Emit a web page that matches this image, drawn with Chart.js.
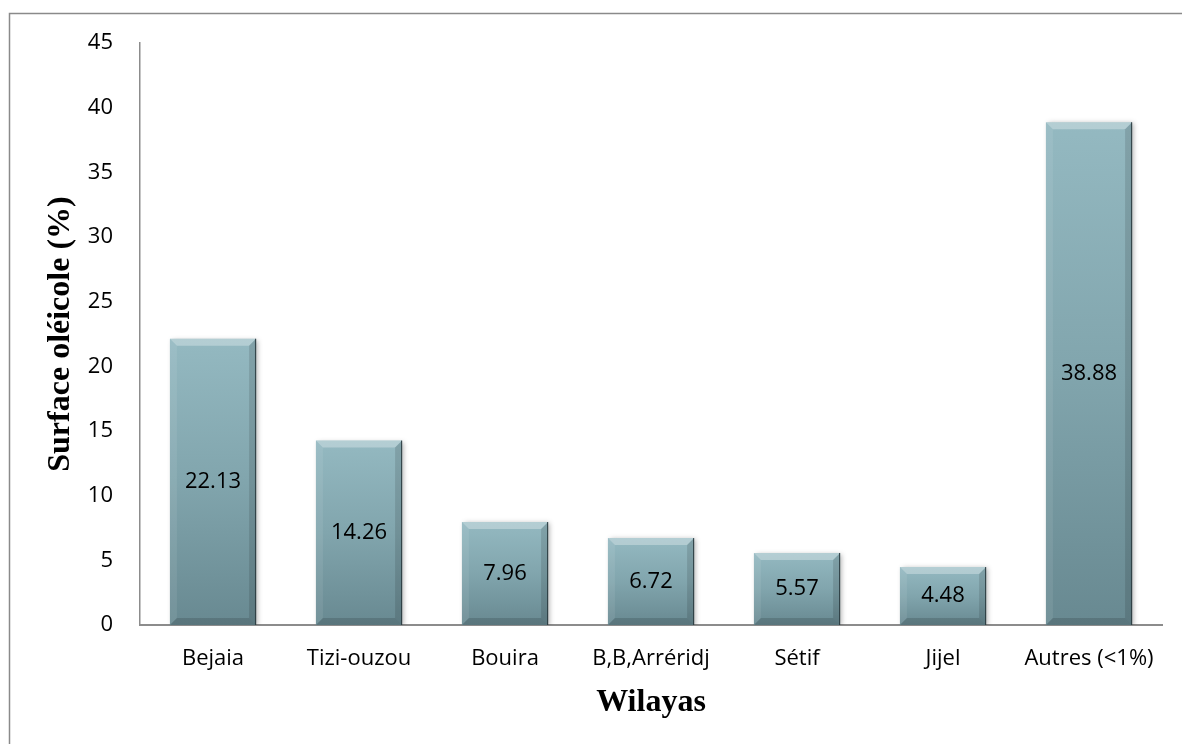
<!DOCTYPE html>
<html>
<head>
<meta charset="utf-8">
<script src="https://cdn.jsdelivr.net/npm/chart.js@4.4.1/dist/chart.umd.min.js"></script>
<style>
  body { margin: 0; background: #fff; }
</style>
</head>
<body>
<canvas id="plot" width="1182" height="744"></canvas>
<script>
// wilayas and share of olive surface (%)
var wilayas = ['Bejaia', 'Tizi-ouzou', 'Bouira', 'B,B,Arréridj', 'Sétif', 'Jijel', 'Autres (<1%)'];
var surface = [22.13, 14.26, 7.96, 6.72, 5.57, 4.48, 38.88];
var yTicks = [0, 5, 10, 15, 20, 25, 30, 35, 40, 45];

var tickFont = { family: 'Open Sans', size: 22 };
var titleFont = { family: 'Liberation Serif', size: 32, weight: 'bold' };

// vertical gradient per bar, like the excel fill
function barFill(c) {
  var chart = c.chart;
  if (!chart.chartArea) return '#82a6ae';
  var ys = chart.scales.y;
  var top = ys.getPixelForValue(c.raw);
  var bot = ys.getPixelForValue(0);
  var g = chart.ctx.createLinearGradient(0, top, 0, bot);
  g.addColorStop(0, '#94b9c1');
  g.addColorStop(0.5, '#81a5ad');
  g.addColorStop(1, '#688991');
  return g;
}

var frame = {
  id: 'frame',
  beforeDraw: function (chart) {
    var ctx = chart.ctx;
    ctx.save();
    ctx.strokeStyle = '#8a8a8a';
    ctx.lineWidth = 1.5;
    ctx.strokeRect(9.5, 13.5, 1400, 900);
    ctx.restore();
  }
};

// bevel edges + value labels in the middle of each bar
var bevel = {
  id: 'bevel',
  afterDatasetsDraw: function (chart) {
    var ctx = chart.ctx;
    var meta = chart.getDatasetMeta(0);
    meta.data.forEach(function (bar, i) {
      var l = bar.x - bar.width / 2, r = bar.x + bar.width / 2;
      var t = bar.y, b = bar.base, s = 7;
      ctx.save();
      ctx.fillStyle = 'rgba(255,255,255,0.3)';
      ctx.beginPath();
      ctx.moveTo(l, t); ctx.lineTo(r, t); ctx.lineTo(r - s, t + s); ctx.lineTo(l + s, t + s); ctx.closePath();
      ctx.fill();
      ctx.fillStyle = 'rgba(255,255,255,0.08)';
      ctx.beginPath();
      ctx.moveTo(l, t); ctx.lineTo(l + s, t + s); ctx.lineTo(l + s, b - s); ctx.lineTo(l, b); ctx.closePath();
      ctx.fill();
      ctx.fillStyle = 'rgba(0,0,0,0.12)';
      ctx.beginPath();
      ctx.moveTo(r, t); ctx.lineTo(r - s, t + s); ctx.lineTo(r - s, b - s); ctx.lineTo(r, b); ctx.closePath();
      ctx.fill();
      ctx.fillStyle = 'rgba(0,0,0,0.14)';
      ctx.beginPath();
      ctx.moveTo(l, b); ctx.lineTo(l + s, b - s); ctx.lineTo(r - s, b - s); ctx.lineTo(r, b); ctx.closePath();
      ctx.fill();
      ctx.strokeStyle = 'rgba(40,55,60,0.85)';
      ctx.lineWidth = 1.2;
      ctx.beginPath();
      ctx.moveTo(r - 0.5, t); ctx.lineTo(r - 0.5, b);
      ctx.stroke();

      ctx.fillStyle = '#000';
      ctx.font = '22px "Open Sans"';
      ctx.textAlign = 'center';
      ctx.textBaseline = 'middle';
      ctx.fillText(surface[i].toFixed(2), bar.x, (t + b) / 2);
      ctx.restore();
    });
  }
};

var shadow = {
  id: 'shadow',
  beforeDatasetsDraw: function (chart) {
    var ctx = chart.ctx;
    ctx.save();
    ctx.shadowColor = 'rgba(0,0,0,0.3)';
    ctx.shadowBlur = 5;
    ctx.shadowOffsetX = 2;
    ctx.shadowOffsetY = 1;
  },
  afterDatasetsDraw: function (chart) {
    chart.ctx.restore();
  }
};

var trace1 = {
  label: 'Surface oléicole',
  data: surface,
  backgroundColor: barFill,
  borderWidth: 0,
  categoryPercentage: 1,
  barPercentage: 0.59
};

new Chart(document.getElementById('plot'), {
  type: 'bar',
  data: { labels: wilayas, datasets: [trace1] },
  plugins: [frame, shadow, bevel],
  options: {
    responsive: false,
    animation: false,
    layout: { padding: { top: 43, right: 20, bottom: 0, left: 0 } },
    plugins: { legend: { display: false }, tooltip: { enabled: false } },
    scales: {
      x: {
        grid: { display: false, drawTicks: false },
        border: { display: true, color: '#8c8c8c', width: 2 },
        ticks: { color: '#000', font: tickFont, padding: 21, maxRotation: 0, autoSkip: false },
        title: { display: true, text: 'Wilayas', color: '#000', font: titleFont, padding: { top: 0, bottom: 22 } },
        afterFit: function (s) { s.height = 119; }
      },
      y: {
        min: 0,
        max: 45,
        grid: { display: false, drawTicks: false },
        border: { display: true, color: '#8c8c8c', width: 1.5 },
        afterBuildTicks: function (s) { s.ticks = yTicks.map(function (v) { return { value: v }; }); },
        ticks: { color: '#000', font: tickFont, padding: 27 },
        title: { display: true, text: 'Surface oléicole (%)', color: '#000', font: titleFont, padding: { top: 42, bottom: 0 } },
        afterFit: function (s) { s.width = 140; }
      }
    }
  }
});
</script>
</body>
</html>
